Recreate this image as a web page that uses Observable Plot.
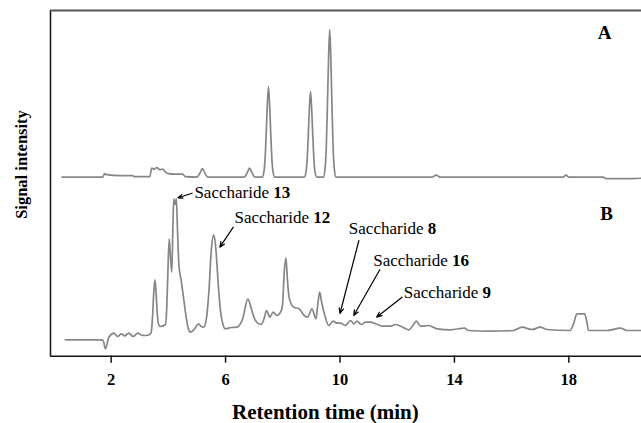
<!DOCTYPE html>
<html>
<head>
<meta charset="utf-8">
<script src="https://cdn.jsdelivr.net/npm/d3@7"></script>
<script src="https://cdn.jsdelivr.net/npm/@observablehq/plot@0.6"></script>
<style>
  html, body { margin: 0; padding: 0; background: white; }
  svg text { font-family: 'Liberation Serif', 'Times New Roman', Times, serif; }
</style>
</head>
<body>
<div id="chart"></div>
<script>
// ---- Data (retention time in min, signal in arbitrary units above each trace's baseline) ----
const timeA = [0.29, 1.70, 1.77, 1.85, 2.30, 2.75, 2.82, 3.35, 3.42, 3.50, 3.60, 3.70, 3.80, 3.90, 4.00, 4.20, 4.50, 4.60,
  5.00, 5.10, 5.19, 5.28, 5.38,
  6.65, 6.75, 6.84, 6.93, 7.03,
  7.28, 7.34, 7.38, 7.42, 7.46, 7.50, 7.54, 7.58, 7.62, 7.66, 7.72,
  8.75, 8.81, 8.85, 8.89, 8.93, 8.97, 9.01, 9.05, 9.09, 9.13, 9.19,
  9.42, 9.48, 9.52, 9.56, 9.60, 9.64, 9.68, 9.72, 9.76, 9.80, 9.86,
  13.20, 13.37, 13.50, 17.80, 17.90, 18.00, 19.20, 19.30, 20.20, 20.54];
const signalA = [0, 0, 3.5, 2.5, 1.5, 1.5, 0.5, 0.5, 9, 8, 9.5, 7.5, 8, 5, 3.5, 3, 3, 0.5,
  0, 4, 8.5, 4, 0,
  0, 4, 9, 4, 0,
  0, 5.4, 18, 43.5, 72.5, 90.7, 72.5, 43.5, 18, 5.4, 0,
  0, 5, 17, 41, 68.5, 85.7, 68.5, 41, 17, 5, 0,
  0, 9, 29.5, 71, 118, 147.7, 118, 71, 29.5, 9, 0,
  0, 2, 0, 0, 2, 0, 0, -1.5, -1.5, -1];

const timeB = [0.40, 1.63, 1.72, 1.80, 1.92, 2.10, 2.22, 2.36, 2.47, 2.62, 2.77, 2.93, 3.05, 3.20, 3.35,
  3.40, 3.45, 3.49, 3.53, 3.57, 3.61, 3.66, 3.72,
  3.90, 3.94, 3.98, 4.03, 4.07, 4.12, 4.16, 4.19, 4.235, 4.28, 4.32, 4.37, 4.45, 4.52, 4.60, 4.68, 4.77,
  4.90, 5.06, 5.15, 5.24,
  5.33, 5.42, 5.50, 5.59, 5.66, 5.74, 5.82, 5.90, 5.99,
  6.20, 6.40, 6.60, 6.78, 6.90, 6.99, 7.10, 7.24, 7.35, 7.43, 7.55, 7.66, 7.80, 7.92,
  7.99, 8.05, 8.11, 8.16, 8.21, 8.30, 8.39, 8.57, 8.75, 8.87, 9.02, 9.16, 9.22, 9.29, 9.36, 9.44,
  9.61, 9.76, 9.90, 10.02, 10.19, 10.37, 10.48, 10.60, 10.74, 10.90, 11.07, 11.25, 11.48, 11.77, 11.95, 12.12,
  12.41, 12.55, 12.67, 12.81, 13.10, 13.40, 13.86, 14.35, 14.50, 15.26, 16.07, 16.36, 16.71, 17.00, 17.23,
  18.04, 18.18, 18.25, 18.30, 18.55, 18.62, 18.69, 19.33, 19.80, 20.03, 20.54];
const signalB = [0.7, 0.7, 0, -8.3, 3.3, 7.3, 4, 6.7, 4.7, 7.3, 4, 7.3, 5.5, 5, 6,
  8, 25, 48, 60.7, 48, 28, 16, 14,
  16, 30, 65, 101.7, 85, 68.3, 115, 141.7, 136, 141.7, 110, 75, 60, 45, 28, 14, 8.3,
  11, 16.7, 14, 13.3,
  22, 50, 90, 105.7, 92, 58, 30, 17, 11.7,
  13, 13.3, 22, 41.7, 32, 23.3, 18, 16, 22, 30, 23.3, 28.3, 25, 28.3,
  35, 68, 82.7, 62, 45, 36, 33.3, 31.7, 25, 23.3, 31.7, 21.7, 35, 48.3, 38, 28.3,
  15, 19.3, 17.3, 17.3, 15, 20, 16.7, 19.3, 16, 18.3, 18.3, 16.7, 14.3, 14.3, 16, 14.3,
  10.7, 15, 19.3, 14.3, 15, 11.7, 10.7, 12.3, 10, 9.3, 10, 13.3, 11, 13.3, 11,
  10, 18, 25, 26.7, 26.7, 20, 10, 10, 12.3, 10, 10];

const xTicks = [2, 6, 10, 14, 18];
const peakNames = ["Saccharide 13", "Saccharide 12", "Saccharide 8", "Saccharide 16", "Saccharide 9"];
const panelNames = ["A", "B"];
const xTitle = "Retention time (min)";
const yTitle = "Signal intensity";

// ---- Layout (positions in data units) ----
const xDomain = [-0.12, 20.54];
const yDomain = [0, 345.7];
const offsetA = 179;   // vertical stacking of trace A
const offsetB = 15.7;  // vertical stacking of trace B

const traceA = timeA.map((t, i) => ({t, v: signalA[i] + offsetA}));
const traceB = timeB.map((t, i) => ({t, v: signalB[i] + offsetB}));

// annotation placement: text start (tx, ty), arrow from (ax1, ay1) to (ax2, ay2); y in trace-B units
const annotPos = [
  {tx: 4.91, ty: 147.7, ax1: 4.83, ay1: 147.3, ax2: 4.34, ay2: 142.7},
  {tx: 6.31, ty: 122.7, ax1: 6.27, ay1: 113.3, ax2: 5.80, ay2: 93.3},
  {tx: 10.31, ty: 112.3, ax1: 10.66, ay1: 100, ax2: 10.00, ay2: 27},
  {tx: 11.16, ty: 80, ax1: 11.39, ay1: 70.7, ax2: 10.48, ay2: 25},
  {tx: 12.23, ty: 48.3, ax1: 12.17, ay1: 43.3, ax2: 11.28, ay2: 23.3}
];
const annots = peakNames.map((name, i) => ({name, ...annotPos[i]}));
const panelPos = [{x: 19.25, y: 323.7}, {x: 19.32, y: 142.4}];
const panels = panelNames.map((name, i) => ({name, ...panelPos[i]}));
const titlePos = [{x: 9.49, y: -55.8, rotate: 0, size: 21}, {x: -1.12, y: 191.7, rotate: -90, size: 16.5}];
const titles = [xTitle, yTitle].map((name, i) => ({name, ...titlePos[i]}));

const serif = "'Liberation Serif', 'Times New Roman', Times, serif";
const traceColor = "#868686";

const plot = Plot.plot({
  width: 641,
  height: 423,
  marginLeft: 50,
  marginRight: 0,
  marginTop: 10,
  marginBottom: 67.3,
  x: {domain: xDomain},
  y: {domain: yDomain},
  style: {fontFamily: serif, fontSize: "16px", color: "black", background: "white"},
  marks: [
    Plot.line(traceA, {x: "t", y: "v", curve: "monotone-x", stroke: traceColor, strokeWidth: 1.7}),
    Plot.line(traceB, {x: "t", y: "v", curve: "monotone-x", stroke: traceColor, strokeWidth: 1.7}),
    Plot.ruleX([xDomain[0]], {stroke: "#111", strokeWidth: 1.5}),
    Plot.ruleY([yDomain[0]], {stroke: "#111", strokeWidth: 1.5}),
    Plot.ruleY([yDomain[1]], {stroke: "#555", strokeWidth: 2}),
    Plot.axisX({ticks: xTicks, tickSize: 7, tickPadding: 10, tickFormat: d => String(d),
      fontFamily: serif, fontSize: 16.5, fontWeight: "bold", stroke: "#111", strokeWidth: 1.5, label: null}),
    Plot.axisY({ticks: [], label: null}),
    Plot.text(titles.slice(0, 1), {x: "x", y: "y", text: "name", fontFamily: serif,
      fontSize: 21, fontWeight: "bold", lineAnchor: "middle", fill: "black", clip: false}),
    Plot.text(titles.slice(1), {x: "x", y: "y", text: "name", rotate: -90, fontFamily: serif,
      fontSize: 16.5, fontWeight: "bold", lineAnchor: "middle", fill: "black", clip: false}),
    Plot.text(panels, {x: "x", y: "y", text: "name", fontFamily: serif, fontSize: 19, fontWeight: "bold",
      fill: "black", lineAnchor: "middle"}),
    Plot.arrow(annots, {x1: "ax1", y1: d => d.ay1 + offsetB, x2: "ax2", y2: d => d.ay2 + offsetB,
      stroke: "black", strokeWidth: 1.2, headLength: 7, headAngle: 45}),
    Plot.text(annots, {x: "tx", y: d => d.ty + offsetB, text: "name", textAnchor: "start", lineAnchor: "middle",
      fontFamily: serif, fontSize: 17, fill: "black"})
  ]
});

// Make the saccharide numbers bold (mixed weight inside one real text element)
d3.select(plot).selectAll("text").each(function() {
  const m = this.textContent.match(/^Saccharide (\d+)$/);
  if (m) {
    const el = d3.select(this);
    el.text("Saccharide ");
    el.append("tspan").attr("font-weight", "bold").text(m[1]);
  }
});

document.getElementById("chart").appendChild(plot);
</script>
</body>
</html>
